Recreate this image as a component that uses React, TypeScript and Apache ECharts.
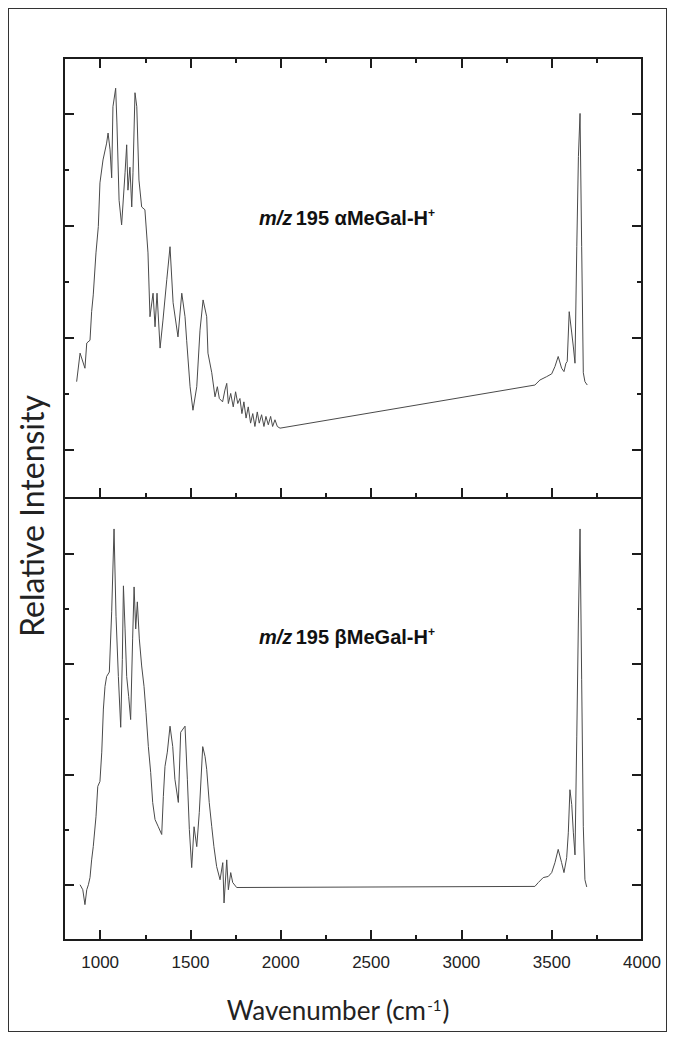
import React, { useEffect, useRef } from 'react';
import * as echarts from 'echarts';

// ---- data ----
const X_MIN = 800;
const X_MAX = 4000;
const xMajorTicks = [1000, 1500, 2000, 2500, 3000, 3500, 4000];
const xMinorTicks = [1250, 1750, 2250, 2750, 3250, 3750];
const xTickLabels = [1000, 1500, 2000, 2500, 3000, 3500, 4000];
const yMajorTicks = [0, 2, 4, 6];
const yMinorTicks = [1, 3, 5];

const alphaWavenumber = [
  870, 889, 916, 926, 944, 953, 962, 977, 990, 999, 1016, 1036, 1044, 1055, 1064, 1071, 1086, 1093,
  1105, 1119, 1138, 1147, 1154, 1165, 1175, 1182, 1193, 1203, 1215, 1230, 1248, 1265, 1276, 1293,
  1304, 1315, 1332, 1348, 1369, 1387, 1404, 1431, 1452, 1470, 1479, 1498, 1514, 1535, 1553, 1570,
  1590, 1597, 1618, 1636, 1649, 1660, 1678, 1691, 1701, 1710, 1723, 1737, 1750, 1762, 1774, 1785,
  1796, 1808, 1820, 1833, 1845, 1857, 1870, 1881, 1894, 1907, 1918, 1931, 1944, 1955, 1968, 1981,
  1996, 3407, 3435, 3472, 3500, 3518, 3536, 3555, 3568, 3579, 3586, 3597, 3611, 3620, 3629, 3639,
  3648, 3657, 3666, 3675, 3684, 3697,
];
const alphaIntensity = [
  1.22, 1.73, 1.46, 1.91, 1.96, 2.47, 2.77, 3.52, 3.99, 4.77, 5.18, 5.48, 5.66, 5.36, 4.86, 6.13, 6.46, 5.84,
  4.46, 4.02, 4.95, 5.45, 4.64, 5.05, 4.34, 4.95, 6.38, 6.13, 4.82, 4.34, 4.29, 3.52, 2.38, 2.8,
  2.2, 2.8, 1.82, 2.32, 3.04, 3.63, 2.63, 2.02, 2.8, 2.38, 1.96, 1.13, 0.71, 1.13, 2.14, 2.68,
  2.38, 1.73, 1.38, 0.95, 1.13, 0.92, 0.86, 1.07, 1.19, 0.83, 1.01, 0.77, 1.04, 0.83, 0.92, 0.65,
  0.86, 0.57, 0.77, 0.48, 0.65, 0.42, 0.68, 0.48, 0.63, 0.42, 0.6, 0.45, 0.6, 0.42, 0.54, 0.42,
  0.39, 1.16, 1.25, 1.31, 1.36, 1.49, 1.67, 1.46, 1.4, 1.55, 1.58, 2.47, 2.09, 1.84, 1.55, 3.63,
  5.24, 6.01, 3.63, 1.38, 1.22, 1.16,
];

const betaWavenumber = [
  889, 904, 916, 926, 935, 944, 953, 962, 977, 987, 999, 1009, 1018, 1027, 1036, 1051, 1064, 1077,
  1088, 1101, 1114, 1123, 1129, 1138, 1147, 1158, 1169, 1180, 1188, 1197, 1206, 1217, 1230, 1243,
  1254, 1267, 1280, 1291, 1304, 1322, 1341, 1350, 1359, 1372, 1387, 1402, 1414, 1433, 1446, 1470,
  1483, 1494, 1507, 1520, 1535, 1549, 1568, 1581, 1590, 1604, 1618, 1630, 1645, 1664, 1679, 1686,
  1701, 1710, 1723, 1734, 1756, 3407, 3426, 3453, 3481, 3500, 3518, 3536, 3555, 3568, 3583, 3592,
  3601, 3611, 3620, 3629, 3639, 3648, 3657, 3666, 3675, 3684, 3694,
];
const betaIntensity = [
  0, -0.09, -0.36, -0.09, 0, 0.13, 0.45, 0.69, 1.23, 1.78, 1.87, 2.4, 3.18, 3.59, 3.77, 3.85, 4.94, 6.44,
  4.86, 3.77, 2.85, 4.08, 5.41, 4.63, 3.77, 3.41, 2.99, 4.45, 5.39, 4.63, 5.12, 4.45, 3.96, 3.59,
  3.12, 2.5, 2.03, 1.49, 1.18, 1.05, 0.91, 1.6, 2.14, 2.4, 2.87, 2.5, 1.91, 1.49, 2.76, 2.87,
  1.91, 1.0, 0.31, 1.05, 0.69, 1.31, 2.5, 2.32, 2.09, 1.49, 1.05, 0.69, 0.33, 0.09, 0.4, -0.33,
  0.45, -0.09, 0.22, 0.04, -0.05, -0.03, 0.04, 0.13, 0.15, 0.22, 0.4, 0.64, 0.4, 0.22, 0.49, 0.94,
  1.72, 1.45, 0.94, 0.54, 2.69, 4.81, 6.44, 3.72, 1.05, 0.09, -0.04,
];

const panelLabels = ['αMeGal', 'βMeGal'];

// ---- helpers ----
const INK = '#1c1c1c';
const lineSt = { color: INK, width: 2 };

function xAxis(grid: number, position: string, ticks: number[] | null, len: number, labels?: number[]) {
  return {
    type: 'value',
    gridIndex: grid,
    position,
    min: X_MIN,
    max: X_MAX,
    axisLine: { show: true, onZero: false, lineStyle: lineSt },
    axisTick: ticks
      ? { show: true, inside: true, length: len, customValues: ticks, lineStyle: lineSt }
      : { show: false },
    axisLabel: labels
      ? {
          show: true,
          customValues: labels,
          formatter: (v: number) => String(v),
          margin: 14,
          color: '#222',
          fontSize: 17,
          fontFamily: 'Arial, "Liberation Sans", sans-serif',
        }
      : { show: false },
    splitLine: { show: false },
  };
}

function yAxis(grid: number, position: string, ticks: number[], len: number, min: number, max: number) {
  return {
    type: 'value',
    gridIndex: grid,
    position,
    min,
    max,
    axisLine: { show: true, onZero: false, lineStyle: lineSt },
    axisTick: { show: true, inside: true, length: len, customValues: ticks, lineStyle: lineSt },
    axisLabel: { show: false },
    splitLine: { show: false },
  };
}

function zip(xs: number[], ys: number[]) {
  return xs.map((x, i) => [x, ys[i]]);
}

export default function App() {
  const ref = useRef<HTMLDivElement>(null);

  useEffect(() => {
    if (!ref.current) return;
    const chart = echarts.init(ref.current, null, { renderer: 'svg' });
    const MAJ = 10;
    const MIN = 5;
    const upMin = -0.857;
    const upMax = 7;
    const loMin = -1;
    const loMax = 7;

    const option = {
      animation: false,
      backgroundColor: '#fff',
      grid: [
        { left: 55, top: 49, width: 578, height: 440 },
        { left: 55, top: 489, width: 578, height: 442 },
      ],
      xAxis: [
        xAxis(0, 'bottom', xMajorTicks, MAJ),
        xAxis(0, 'bottom', xMinorTicks, MIN),
        xAxis(0, 'top', xMajorTicks, MAJ),
        xAxis(0, 'top', xMinorTicks, MIN),
        xAxis(1, 'bottom', xMajorTicks, MAJ, xTickLabels),
        xAxis(1, 'bottom', xMinorTicks, MIN),
        xAxis(1, 'top', null, 0),
      ],
      yAxis: [
        yAxis(0, 'left', yMajorTicks, MAJ, upMin, upMax),
        yAxis(0, 'left', yMinorTicks, MIN, upMin, upMax),
        yAxis(0, 'right', yMajorTicks, MAJ, upMin, upMax),
        yAxis(0, 'right', yMinorTicks, MIN, upMin, upMax),
        yAxis(1, 'left', yMajorTicks, MAJ, loMin, loMax),
        yAxis(1, 'left', yMinorTicks, MIN, loMin, loMax),
        yAxis(1, 'right', yMajorTicks, MAJ, loMin, loMax),
        yAxis(1, 'right', yMinorTicks, MIN, loMin, loMax),
      ],
      series: [
        {
          type: 'line',
          name: panelLabels[0],
          xAxisIndex: 0,
          yAxisIndex: 0,
          data: zip(alphaWavenumber, alphaIntensity),
          showSymbol: false,
          lineStyle: { color: '#4a4a4a', width: 1 },
          silent: true,
        },
        {
          type: 'line',
          name: panelLabels[1],
          xAxisIndex: 4,
          yAxisIndex: 4,
          data: zip(betaWavenumber, betaIntensity),
          showSymbol: false,
          lineStyle: { color: '#4a4a4a', width: 1 },
          silent: true,
        },
      ],
      graphic: [
        {
          type: 'text',
          x: 22,
          y: 507,
          rotation: Math.PI / 2,
          style: {
            text: 'Relative Intensity',
            fill: '#222',
            font: '32px Lato, "Open Sans", sans-serif',
            align: 'center',
            verticalAlign: 'middle',
          },
        },
        {
          type: 'text',
          x: 329,
          y: 1001,
          style: {
            text: '{b|Wavenumber (cm}{s|-1}{b|)}',
            align: 'center',
            verticalAlign: 'middle',
            rich: {
              b: { fontSize: 26, fontFamily: 'Lato, sans-serif', fill: '#222', lineHeight: 32 },
              s: { fontSize: 15, fontFamily: 'Lato, sans-serif', fill: '#222', lineHeight: 32, padding: [0, 1, 11, 1] },
            },
          },
        },
        ...panelLabels.map((lab, i) => ({
          type: 'text',
          x: 250,
          y: i === 0 ? 209 : 628,
          style: {
            text: '{i|m/z} {b|195 ' + lab + '-H}{s|+}',
            align: 'left',
            verticalAlign: 'middle',
            rich: {
              i: { fontSize: 20, fontWeight: 'bold', fontStyle: 'italic', fontFamily: 'Arial, "Liberation Sans", sans-serif', fill: '#111', lineHeight: 24 },
              b: { fontSize: 20, fontWeight: 'bold', fontFamily: 'Arial, "Liberation Sans", sans-serif', fill: '#111', lineHeight: 24 },
              s: { fontSize: 12, fontWeight: 'bold', fontFamily: 'Arial, "Liberation Sans", sans-serif', fill: '#111', lineHeight: 24, padding: [0, 0, 10, 0] },
            },
          },
        })),
      ],
    };
    chart.setOption(option as any);
    return () => chart.dispose();
  }, []);

  return (
    <div style={{ width: 657, height: 1022, border: '1px solid #333' }}>
      <div ref={ref} style={{ width: 657, height: 1022 }} />
    </div>
  );
}
